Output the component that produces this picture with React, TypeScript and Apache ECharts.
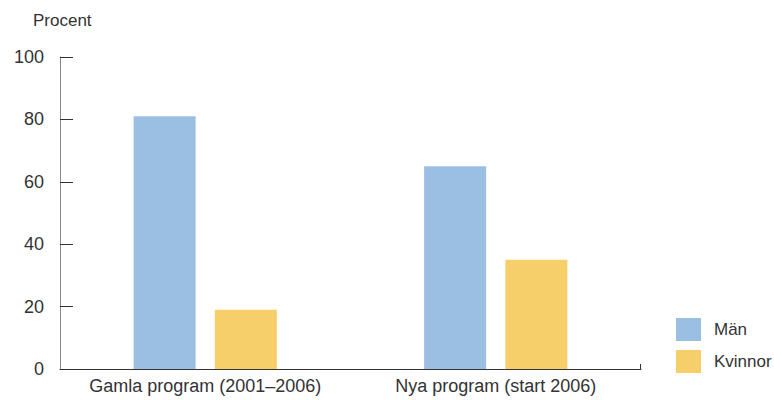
import React, { useEffect, useRef } from "react";
import * as echarts from "echarts";

const categories = ["Gamla program (2001–2006)", "Nya program (start 2006)"];
const manValues = [81, 65];
const kvinnorValues = [19, 35];
const seriesNames = ["Män", "Kvinnor"];
const yTicks = [0, 20, 40, 60, 80, 100];

const FONT = "'Liberation Sans', Arial, sans-serif";
const GRID = { left: 60, right: 133, top: 57, bottom: 31 };
const W = 774;
const H = 400;

export default function App() {
  const ref = useRef<HTMLDivElement>(null);
  useEffect(() => {
    if (!ref.current) return;
    const chart = echarts.init(ref.current, null, { renderer: "svg" });
    const xEnd = W - GRID.right;
    const yBase = H - GRID.bottom;
    chart.setOption({
      animation: false,
      textStyle: { fontFamily: FONT },
      title: {
        text: "Procent",
        left: 28,
        top: 7,
        textStyle: { fontSize: 17, fontWeight: "normal", color: "#333", fontFamily: FONT },
      },
      legend: {
        orient: "vertical",
        left: 671,
        top: 313,
        itemWidth: 25,
        itemHeight: 23,
        itemGap: 9,
        icon: "rect",
        data: seriesNames,
        textStyle: { fontSize: 17, color: "#333", fontFamily: FONT, padding: [0, 0, 0, 8] },
      },
      grid: { ...GRID, containLabel: false },
      graphic: [
        {
          type: "line",
          shape: { x1: xEnd - 0.5, y1: yBase - 5, x2: xEnd - 0.5, y2: yBase },
          style: { stroke: "#333", lineWidth: 1 },
          z: 10,
        },
      ],
      xAxis: {
        type: "category",
        data: categories,
        axisLine: { lineStyle: { color: "#333", width: 1 } },
        axisTick: { show: false },
        axisLabel: { fontSize: 18, color: "#333", margin: 8, fontFamily: FONT, interval: 0 },
      },
      yAxis: {
        type: "value",
        min: yTicks[0],
        max: yTicks[yTicks.length - 1],
        interval: 20,
        splitLine: { show: false },
        axisLine: { show: true, lineStyle: { color: "#888", width: 1 } },
        axisTick: { show: true, inside: true, length: 13, lineStyle: { color: "#333" } },
        axisLabel: { fontSize: 18, color: "#333", margin: 16, fontFamily: FONT },
      },
      series: [
        {
          name: seriesNames[0],
          type: "bar",
          data: manValues,
          barWidth: 62,
          barGap: "31%",
          itemStyle: { color: "#9ABFE2" },
        },
        {
          name: seriesNames[1],
          type: "bar",
          data: kvinnorValues,
          barWidth: 62,
          itemStyle: { color: "#F7CF6A" },
        },
      ],
    });
    return () => chart.dispose();
  }, []);
  return <div ref={ref} style={{ width: W, height: H, position: "absolute", left: 0, top: 0 }} />;
}
